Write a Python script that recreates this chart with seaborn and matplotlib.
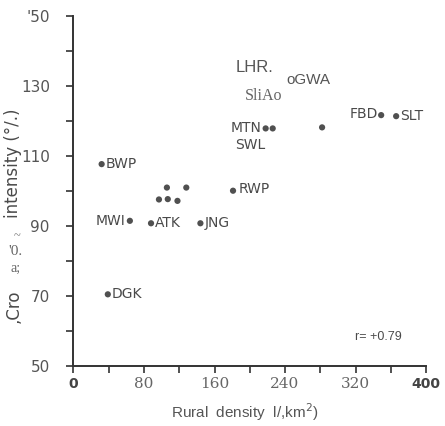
import matplotlib
matplotlib.use("Agg")
import matplotlib.pyplot as plt
import seaborn as sns
import pandas as pd

# Districts: rural population density (persons/km2) vs cropping intensity (%)
districts = ["BWP", "MWI", "ATK", "JNG", "RWP", "DGK", "MTN", "SWL", "", "FBD", "SLT",
             "", "", "", "", ""]
density = [32, 64, 88, 144, 181, 39, 218, 226, 282, 349, 366,
           106, 128, 97, 107, 118]
intensity = [107.6, 91.4, 90.7, 90.7, 100.0, 70.4, 117.8, 117.8, 118.1, 121.6, 121.3,
             100.9, 100.9, 97.5, 97.6, 97.1]

x_ticks = [0, 80, 160, 240, 320, 400]
x_tick_labels = ["0", "80", "160", "240", "320", "400"]
y_ticks = [50, 70, 90, 110, 130, 150]
y_tick_labels = ["50", "70", "90", "110", "130", "'50"]
r_text = "r= +0.79"

df = pd.DataFrame({"district": districts, "density": density, "intensity": intensity})

sns.set_style("white")
plt.rcParams["font.family"] = ["DejaVu Sans"]

ink = "#4a4a4a"
fig = plt.figure(figsize=(4.45, 4.26), dpi=100)
ax = fig.add_axes([0.165, 0.1415, 0.7926, 0.8216])

sns.scatterplot(data=df, x="density", y="intensity", ax=ax, color="#505050",
                s=20, edgecolor="none", legend=False)

ax.set_xlim(0, 400)
ax.set_ylim(50, 150)
for side in ("top", "right"):
    ax.spines[side].set_visible(False)
for side in ("left", "bottom"):
    ax.spines[side].set_color("#333333")
    ax.spines[side].set_linewidth(1.4)

ax.set_xticks(x_ticks)
ax.set_xticklabels(x_tick_labels)
ax.set_xticks(range(0, 401, 40), minor=True)
ax.set_yticks(y_ticks)
ax.set_yticklabels(y_tick_labels)
ax.set_yticks(range(50, 151, 10), minor=True)
ax.tick_params(axis="both", which="both", direction="out", length=5, width=1.2,
               color="#333333", labelcolor="#555555", labelsize=11)
ax.tick_params(axis="y", which="both", left=True, pad=12)
ax.tick_params(axis="x", which="both", bottom=True, pad=3)
for lab in ax.get_xticklabels()[1:5]:
    lab.set_family("DejaVu Serif")
    lab.set_fontsize(11)
    lab.set_color("#666666")
for lab in (ax.get_xticklabels()[0], ax.get_xticklabels()[5]):
    lab.set_weight("bold")
    lab.set_fontsize(10)
    lab.set_color("#444444")

ax.set_xlabel("")
ax.set_ylabel("")

# label placement relative to each marker: (dx, dy) in points, alignment
placement = {
    "BWP": (3, 0, "left"),
    "MWI": (-3, 0, "right"),
    "ATK": (3, 0, "left"),
    "JNG": (3, 0, "left"),
    "RWP": (4, 1, "left"),
    "DGK": (3, 0, "left"),
    "MTN": (-3, 0, "right"),
    "SWL": (-16, -12, "center"),
    "FBD": (-2, 1, "right"),
    "SLT": (3, 0, "left"),
}
for name, xv, yv in zip(districts, density, intensity):
    if not name:
        continue
    dx, dy, ha = placement[name]
    ax.annotate(name, (xv, yv), xytext=(dx, dy), textcoords="offset points",
                ha=ha, va="center", fontsize=10, color=ink)

# faint labels in the upper cluster
ax.text(184, 135.1, "LHR.", fontsize=12, color="#555555", va="center",
        family="Liberation Sans")
ax.text(242, 131.6, "oGWA", fontsize=11, color="#555555", va="center",
        family="Liberation Sans")
ax.text(195, 127.1, "SliAo", fontsize=11.5, color="#666666", va="center",
        family="Liberation Serif")

ax.text(319, 58.2, r_text, fontsize=9, color=ink, va="center",
        family="Liberation Sans")

# axis titles
fig.text(0.55, 0.033, "Rural  density  l/,km$^2$)", ha="center", va="center",
         fontsize=11, color="#555555", family="Liberation Sans")
fig.text(0.03, 0.617, "intensity (°/.)", rotation=90, ha="center", va="center",
         fontsize=12, color=ink)
fig.text(0.03, 0.282, ",Cro", rotation=90, ha="center", va="center",
         fontsize=12, color=ink)
fig.text(0.038, 0.445, "~", ha="center", va="center", fontsize=9, color="#777777",
         family="Liberation Serif")
fig.text(0.035, 0.41, "'0.", ha="center", va="center", fontsize=11, color="#666666",
         family="Liberation Serif")
fig.text(0.035, 0.37, "a;", ha="center", va="center", fontsize=10, color="#666666",
         family="Liberation Serif")

fig.savefig("out.png", dpi=100, facecolor="white")
